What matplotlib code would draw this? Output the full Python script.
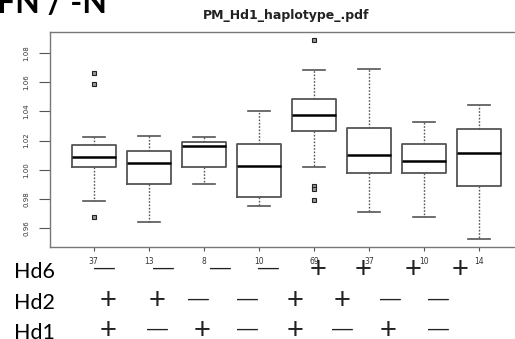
import matplotlib
matplotlib.use("Agg")
from matplotlib import pyplot as plt

# box statistics
counts = ['37', '13', '8', '10', '69', '37', '10', '14']
whislo = [0.9786, 0.9641, 0.9905, 0.9750, 1.0019, 0.9711, 0.9679, 0.9526]
q1     = [1.0019, 0.9905, 1.0019, 0.9816, 1.0266, 0.9980, 0.9978, 0.9890]
med    = [1.0088, 1.0044, 1.0165, 1.0028, 1.0375, 1.0099, 1.0062, 1.0113]
q3     = [1.0172, 1.0129, 1.0190, 1.0177, 1.0487, 1.0286, 1.0179, 1.0277]
whishi = [1.0227, 1.0231, 1.0227, 1.0400, 1.0680, 1.0690, 1.0325, 1.0444]
fliers = [[1.066, 1.0585, 0.9675], [], [], [], [1.0888, 0.989, 0.9866, 0.9793], [], [], []]
yticks = [0.96, 0.98, 1.00, 1.02, 1.04, 1.06, 1.08]

hd6 = ['-', '-', '-', '-', '+', '+', '+', '+']
hd2 = ['+', '+', '-', '-', '+', '+', '-', '-']
hd1 = ['+', '-', '+', '-', '+', '-', '+', '-']

W, H = 515, 339
fig = plt.figure(figsize=(W / 100, H / 100), dpi=100)
ax = fig.add_axes([50 / W, 1 - 247 / H, 466 / W, 215 / H])

stats = []
for i in range(len(counts)):
    stats.append(dict(whislo=whislo[i], q1=q1[i], med=med[i], q3=q3[i],
                      whishi=whishi[i], fliers=fliers[i]))

gray = '#555555'
ax.bxp(stats, positions=range(1, 9), widths=0.8, showfliers=True,
       boxprops=dict(color=gray, lw=1.3),
       medianprops=dict(color='black', lw=1.8),
       whiskerprops=dict(color=gray, lw=1.0, linestyle=(0, (1.2, 1.2))),
       capprops=dict(color=gray, lw=1.2),
       flierprops=dict(marker='s', ms=3, mec='#222222', mfc='#999999', mew=0.8, ls='none'))

ax.set_xlim(0.205, 8.67)
ax.set_ylim(0.9471, 1.0943)
ax.set_xticks(range(1, 9))
ax.set_xticklabels(counts, fontsize=5.5, color='#333333')
ax.set_yticks(yticks)
ax.set_yticklabels(['%.2f' % v for v in yticks], rotation=90, va='center',
                   fontsize=5, color='#333333')
ax.tick_params(axis='y', length=8, width=0.8, color=gray, pad=7)
ax.tick_params(axis='x', length=3, width=0.8, color=gray, pad=4)
ax.spines['right'].set_visible(False)
for s in ['left', 'top', 'bottom']:
    ax.spines[s].set_color('#777777')
    ax.spines[s].set_linewidth(1.0)

fig.text(286 / W, 1 - 15 / H, 'PM_Hd1_haplotype_.pdf', ha='center', va='center',
         fontsize=9, fontweight='bold', family='DejaVu Sans', color='#222222')
fig.text(-3 / W, 1 - 13 / H, 'FN / -N', ha='left', va='baseline',
         fontsize=23, fontweight='bold', family='Lato')

# haplotype table under the plot
rows = [('Hd6', hd6, 278, 270, [104, 163, 220, 268, 318, 363, 413, 460]),
        ('Hd2', hd2, 309, 301, [108, 157, 198, 247, 295, 342, 390, 438]),
        ('Hd1', hd1, 339, 331, [108, 157, 202, 247, 295, 342, 388, 438])]
for name, signs, base, yc, xs in rows:
    fig.text(14 / W, 1 - base / H, name, ha='left', va='baseline',
             fontsize=15.5, family='Lato')
    for x, s in zip(xs, signs):
        if s == '+':
            fig.text(x / W, 1 - yc / H, '+', ha='center', va='center',
                     fontsize=21, family='Liberation Sans', color='#222222')
        else:
            fig.text(x / W, 1 - (yc - 2) / H, '\u2014', ha='center', va='center',
                     fontsize=15, family='Liberation Sans', color='#222222')

fig.savefig('out.png', dpi=100)
